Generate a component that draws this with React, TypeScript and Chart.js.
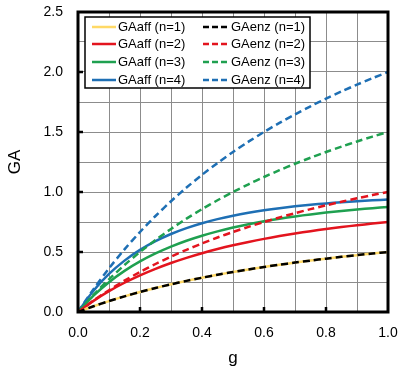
import React, { useEffect, useRef } from 'react';
import { Chart, registerables } from 'chart.js';

Chart.register(...registerables);

const gValues = [0, 0.05, 0.1, 0.15, 0.2, 0.25, 0.3, 0.35, 0.4, 0.45, 0.5, 0.55, 0.6, 0.65, 0.7, 0.75, 0.8, 0.85, 0.9, 0.95, 1.0];

const GAaff1 = [0, 0.0476, 0.0909, 0.1304, 0.1667, 0.2, 0.2308, 0.2593, 0.2857, 0.3103, 0.3333, 0.3548, 0.375, 0.3939, 0.4118, 0.4286, 0.4444, 0.4595, 0.4737, 0.4872, 0.5];
const GAaff2 = [0, 0.093, 0.1736, 0.2438, 0.3056, 0.36, 0.4083, 0.4513, 0.4898, 0.5243, 0.5556, 0.5837, 0.6094, 0.6327, 0.654, 0.6735, 0.6914, 0.7079, 0.723, 0.737, 0.75];
const GAaff3 = [0, 0.1362, 0.2487, 0.3425, 0.4213, 0.488, 0.5448, 0.5936, 0.6356, 0.672, 0.7037, 0.7314, 0.7559, 0.7774, 0.7965, 0.8134, 0.8285, 0.8421, 0.8542, 0.8651, 0.875];
const GAaff4 = [0, 0.1773, 0.317, 0.4282, 0.5177, 0.5904, 0.6499, 0.699, 0.7397, 0.7738, 0.8025, 0.8267, 0.8474, 0.8651, 0.8803, 0.8934, 0.9047, 0.9147, 0.9233, 0.9308, 0.9375];

const GAenz1 = [0, 0.0476, 0.0909, 0.1304, 0.1667, 0.2, 0.2308, 0.2593, 0.2857, 0.3103, 0.3333, 0.3548, 0.375, 0.3939, 0.4118, 0.4286, 0.4444, 0.4595, 0.4737, 0.4872, 0.5];
const GAenz2 = [0, 0.0952, 0.1818, 0.2609, 0.3333, 0.4, 0.4615, 0.5185, 0.5714, 0.6207, 0.6667, 0.7097, 0.75, 0.7879, 0.8235, 0.8571, 0.8889, 0.9189, 0.9474, 0.9744, 1.0];
const GAenz3 = [0, 0.1429, 0.2727, 0.3913, 0.5, 0.6, 0.6923, 0.7778, 0.8571, 0.931, 1.0, 1.0645, 1.125, 1.1818, 1.2353, 1.2857, 1.3333, 1.3784, 1.4211, 1.4615, 1.5];
const GAenz4 = [0, 0.1905, 0.3636, 0.5217, 0.6667, 0.8, 0.9231, 1.037, 1.1429, 1.2414, 1.3333, 1.4194, 1.5, 1.5758, 1.6471, 1.7143, 1.7778, 1.8378, 1.8947, 1.9487, 2.0];

const affLabels = ['GAaff (n=1)', 'GAaff (n=2)', 'GAaff (n=3)', 'GAaff (n=4)'];
const enzLabels = ['GAenz (n=1)', 'GAenz (n=2)', 'GAenz (n=3)', 'GAenz (n=4)'];
const affColors = ['#FFD966', '#E3141E', '#1FA050', '#1E6FB4'];
const enzColors = ['#000000', '#E3141E', '#1FA050', '#1E6FB4'];

const FONT = '"Liberation Sans", Arial, sans-serif';

export default function App() {
  const ref = useRef<HTMLCanvasElement>(null);
  useEffect(() => {
    document.body.style.margin = '0';
    const canvas = ref.current!;
    const mk = (label: string, data: number[], color: string, dashed: boolean, order: number) => ({
      label,
      data: data.map((y, i) => ({ x: gValues[i], y })),
      borderColor: color,
      backgroundColor: color,
      borderWidth: 2.5,
      borderDash: dashed ? [7, 4] : [],
      pointRadius: 0,
      tension: 0.3,
      fill: false,
      order,
    });
    const affData = [GAaff1, GAaff2, GAaff3, GAaff4];
    const enzData = [GAenz1, GAenz2, GAenz3, GAenz4];
    const datasets: any[] = [];
    affData.forEach((d, i) => datasets.push(mk(affLabels[i], d, affColors[i], false, 10 + i)));
    enzData.forEach((d, i) => datasets.push(mk(enzLabels[i], d, enzColors[i], true, i)));

    const framePlugin = {
      id: 'frame',
      afterDatasetsDraw(chart: any) {
        const { ctx, chartArea: a, scales } = chart;
        ctx.save();
        ctx.strokeStyle = '#000';
        ctx.lineWidth = 2.5;
        ctx.beginPath();
        for (let v = 0.2; v < 1.0; v += 0.2) {
          const px = scales.x.getPixelForValue(v);
          ctx.moveTo(px, a.bottom);
          ctx.lineTo(px, a.bottom - 5);
        }
        for (let v = 0.5; v < 2.5; v += 0.5) {
          const py = scales.y.getPixelForValue(v);
          ctx.moveTo(a.left, py);
          ctx.lineTo(a.left + 5, py);
        }
        ctx.stroke();
        ctx.lineWidth = 3;
        ctx.strokeRect(a.left, a.top, a.right - a.left, a.bottom - a.top);

        const bx = 85, by = 17, bw = 225, bh = 71;
        ctx.fillStyle = '#fff';
        ctx.fillRect(bx, by, bw, bh);
        ctx.lineWidth = 1.5;
        ctx.strokeStyle = '#000';
        ctx.strokeRect(bx, by, bw, bh);
        ctx.font = '13px ' + FONT;
        ctx.textBaseline = 'middle';
        ctx.textAlign = 'left';
        const rows = [27, 44, 62, 80];
        rows.forEach((ry, i) => {
          ctx.lineWidth = 2.5;
          ctx.setLineDash([]);
          ctx.strokeStyle = affColors[i];
          ctx.beginPath();
          ctx.moveTo(92, ry);
          ctx.lineTo(116, ry);
          ctx.stroke();
          ctx.fillStyle = '#000';
          ctx.fillText(affLabels[i], 118, ry);
          ctx.setLineDash([6, 3]);
          ctx.strokeStyle = enzColors[i];
          ctx.beginPath();
          ctx.moveTo(203, ry);
          ctx.lineTo(230, ry);
          ctx.stroke();
          ctx.setLineDash([]);
          ctx.fillText(enzLabels[i], 231, ry);
        });
        ctx.restore();
      },
    };

    const chart = new Chart(canvas, {
      type: 'line',
      data: { datasets },
      options: {
        animation: false,
        responsive: false,
        layout: { padding: { top: 12, right: 12, left: 0, bottom: 0 } },
        plugins: { legend: { display: false }, tooltip: { enabled: false } },
        scales: {
          x: {
            type: 'linear',
            min: 0,
            max: 1,
            afterFit: (s: any) => { s.height = 59; s.paddingLeft = 0; s.paddingRight = 0; s.paddingTop = 0; s.paddingBottom = 0; },
            grid: { color: '#8c8c8c', lineWidth: 1, drawTicks: false },
            border: { display: false },
            ticks: {
              stepSize: 0.1,
              autoSkip: false,
              maxRotation: 0,
              padding: 13,
              color: '#000',
              font: { size: 14, family: FONT },
              callback: (v: any) => (Math.round(Number(v) * 10) % 2 === 0 ? Number(v).toFixed(1) : ''),
            },
            title: { display: true, text: 'g', color: '#000', font: { size: 17, family: FONT }, padding: { top: 4, bottom: 2 } },
          },
          y: {
            type: 'linear',
            min: 0,
            max: 2.5,
            afterFit: (s: any) => { s.width = 78; s.paddingLeft = 0; s.paddingRight = 0; s.paddingTop = 0; s.paddingBottom = 0; },
            grid: { color: '#8c8c8c', lineWidth: 1, drawTicks: false },
            border: { display: false },
            ticks: {
              stepSize: 0.25,
              autoSkip: false,
              padding: 15,
              color: '#000',
              font: { size: 14, family: FONT },
              callback: (v: any) => (Math.round(Number(v) * 4) % 2 === 0 ? Number(v).toFixed(1) : ''),
            },
            title: { display: true, text: 'GA', color: '#000', font: { size: 17, family: FONT }, padding: { top: 5, bottom: 0 } },
          },
        },
      },
      plugins: [framePlugin],
    });
    return () => chart.destroy();
  }, []);
  return (
    <div style={{ width: 400, height: 371 }}>
      <canvas ref={ref} width={400} height={371} style={{ display: 'block' }} />
    </div>
  );
}
